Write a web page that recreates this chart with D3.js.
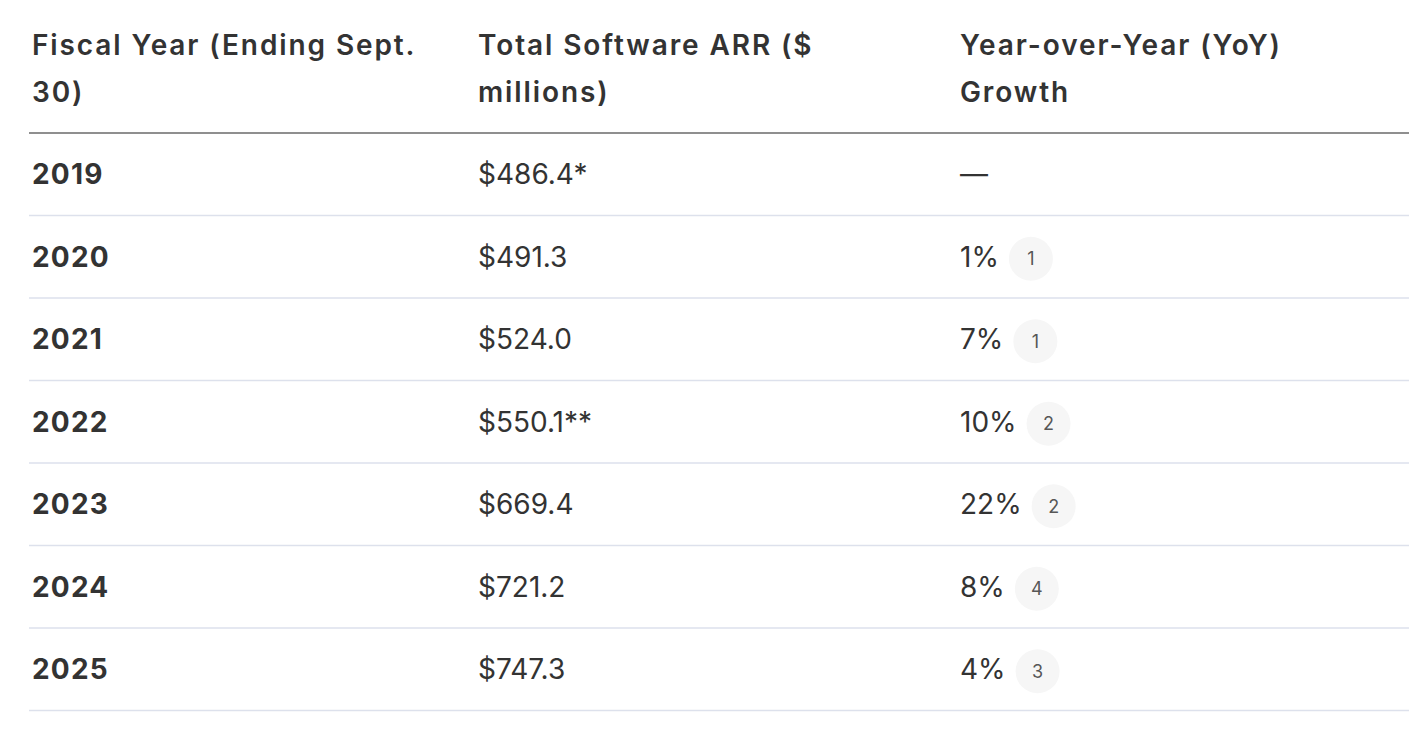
<!DOCTYPE html>
<html>
<head>
<meta charset="utf-8">
<script src="https://cdn.jsdelivr.net/npm/d3@7/dist/d3.min.js"></script>
<style>
  html, body { margin: 0; padding: 0; background: #fff; }
  svg { display: block; }
  text { font-family: Inter, "Open Sans", sans-serif; }
</style>
</head>
<body>
<svg id="chart" width="1428" height="730"></svg>
<script>
// ---- data ----
const headers = [
  ["Fiscal Year (Ending Sept.", "30)"],
  ["Total Software ARR ($", "millions)"],
  ["Year-over-Year (YoY)", "Growth"]
];
const years = ["2019", "2020", "2021", "2022", "2023", "2024", "2025"];
const arrLabels = ["$486.4*", "$491.3", "$524.0", "$550.1**", "$669.4", "$721.2", "$747.3"];
const growthLabels = ["—", "1%", "7%", "10%", "22%", "8%", "4%"];
const badges = [null, "1", "1", "2", "2", "4", "3"];

// ---- layout ----
const svg = d3.select("#chart");
const left = 29, right = 1409;
const headBottom = 133;
const colX = d3.scaleOrdinal().domain([0, 1, 2]).range([32, 478, 960]);
const rowY = d3.scaleBand().domain(years).range([headBottom, 710.5]).paddingInner(0).paddingOuter(0);

// header
headers.forEach((lines, i) => {
  lines.forEach((ln, j) => {
    svg.append("text")
      .attr("x", colX(i))
      .attr("y", 45 + j * 47)
      .attr("dy", "0.35em")
      .attr("font-size", 28)
      .attr("font-weight", 600)
      .attr("letter-spacing", 1.9)
      .attr("fill", "#333")
      .text(ln);
  });
});
svg.append("line")
  .attr("x1", left).attr("x2", right)
  .attr("y1", headBottom).attr("y2", headBottom)
  .attr("stroke", "#8f8f8f").attr("stroke-width", 2);

// rows
const rows = svg.selectAll("g.row").data(years).join("g")
  .attr("class", "row")
  .attr("transform", d => `translate(0,${rowY(d)})`);

const bh = rowY.bandwidth();

rows.append("line")
  .attr("x1", left).attr("x2", right)
  .attr("y1", bh).attr("y2", bh)
  .attr("stroke", "#dde1ec").attr("stroke-width", 1.6);

rows.append("text")
  .attr("x", colX(0)).attr("y", bh / 2).attr("dy", "0.35em")
  .attr("font-size", 28).attr("font-weight", 700).attr("fill", "#333")
  .attr("letter-spacing", 1.2)
  .text(d => d);

rows.append("text")
  .attr("x", colX(1)).attr("y", bh / 2).attr("dy", "0.35em")
  .attr("font-size", 28).attr("font-weight", 400).attr("fill", "#333")
  .text((d, i) => arrLabels[i]);

const gText = rows.append("text")
  .attr("x", colX(2)).attr("y", bh / 2).attr("dy", "0.35em")
  .attr("font-size", 28).attr("font-weight", 400).attr("fill", "#333")
  .text((d, i) => growthLabels[i]);

gText.each(function(d, i) {
  if (!badges[i]) return;
  const w = this.getComputedTextLength();
  const g = d3.select(this.parentNode);
  const cx = colX(2) + w + 10 + 22;
  g.append("circle")
    .attr("cx", cx).attr("cy", bh / 2 + 2).attr("r", 22)
    .attr("fill", "#f6f6f6");
  g.append("text")
    .attr("x", cx).attr("y", bh / 2 + 2).attr("dy", "0.35em")
    .attr("text-anchor", "middle")
    .attr("font-size", 18).attr("fill", "#575757")
    .text(badges[i]);
});
</script>
</body>
</html>
